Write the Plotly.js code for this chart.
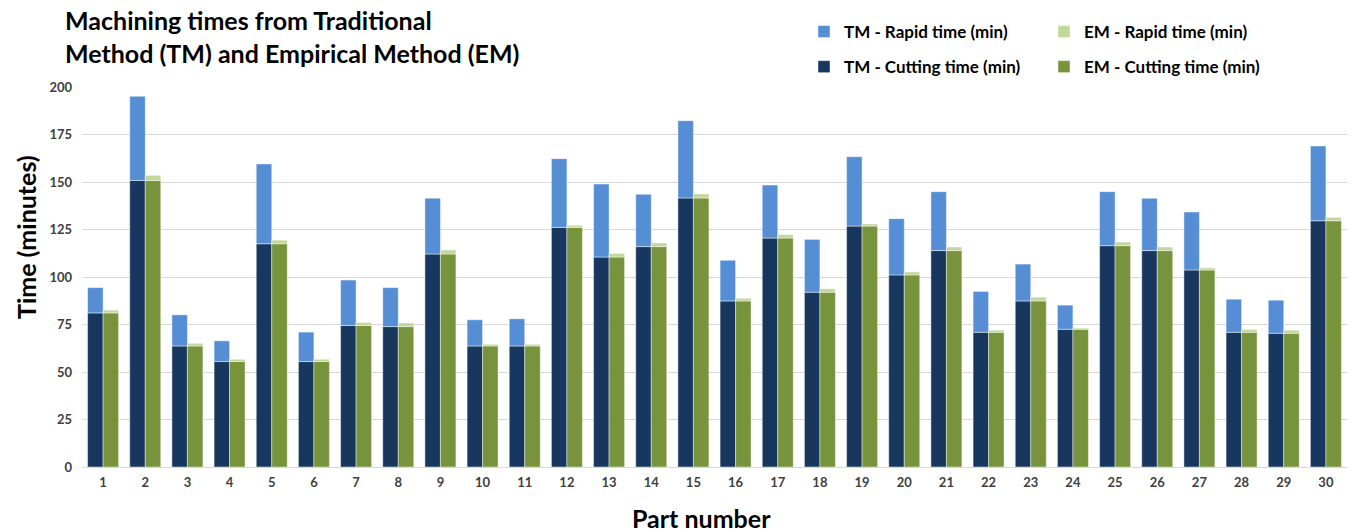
<!DOCTYPE html>
<html>
<head>
<meta charset="utf-8">
<script src="https://cdn.plot.ly/plotly-3.0.1.min.js"></script>
<style>
  html, body { margin: 0; padding: 0; background: #ffffff; }
  #chart { width: 1352px; height: 532px; }
</style>
</head>
<body>
<div id="chart"></div>
<script>
// Part numbers on the category axis
const parts = ['1','2','3','4','5','6','7','8','9','10','11','12','13','14','15',
               '16','17','18','19','20','21','22','23','24','25','26','27','28','29','30'];

// Traditional Method (TM), minutes
const tmCutting = [81.1,150.8,63.7,55.5,117.5,55.5,74.5,73.9,112.1,63.7,63.7,126.1,110.5,116.0,141.6,
                   87.4,120.5,92.0,126.8,101.1,113.9,70.9,87.4,72.5,116.5,113.9,103.7,70.9,70.4,129.6];
const tmRapid   = [13.3,44.3,16.4,10.9,42.0,15.5,23.9,20.5,29.4,13.8,14.3,36.2,38.4,27.5,40.7,
                   21.4,27.9,27.8,36.5,29.6,31.0,21.5,19.4,12.7,28.4,27.5,30.5,17.4,17.4,39.3];

// Empirical Method (EM), minutes
const emCutting = [81.1,150.8,63.7,55.5,117.5,55.5,74.5,73.9,112.1,63.7,63.7,126.1,110.5,116.0,141.6,
                   87.4,120.5,92.0,126.8,101.1,113.9,70.9,87.4,72.5,116.5,113.9,103.7,70.9,70.4,129.6];
const emRapid   = [1.5,2.7,1.4,1.2,1.9,1.2,1.6,1.9,2.1,0.9,0.9,1.1,1.9,1.9,2.1,
                   1.4,1.8,1.8,1.1,1.6,1.9,1.1,2.0,0.6,1.9,1.9,1.1,1.5,1.6,1.8];

const yTicks = [0,25,50,75,100,125,150,175,200];

const FONT = 'Lato, "Open Sans", sans-serif';
const edge = {color: 'rgba(255,255,255,0.55)', width: 0.8};

// plot area in pixels, used to place legends and axis titles in paper units
const W = 1352, H = 532, L = 82, R = 5, T = 87, B = 65;
const PW = W - L - R, PH = H - T - B;
const px2x = (px) => (px - L) / PW;
const py2y = (py) => (H - B - py) / PH;

const traces = [
  {type:'bar', name:'TM - Cutting time (min)', x:parts, y:tmCutting,
   offsetgroup:'TM', legend:'legend', legendgroup:'a2', legendrank:2,
   marker:{color:'#17375E', line:edge}},
  {type:'bar', name:'TM - Rapid time (min)', x:parts, y:tmRapid, base:tmCutting,
   offsetgroup:'TM', legend:'legend', legendgroup:'a1', legendrank:1,
   marker:{color:'#558ED5', line:edge}},
  {type:'bar', name:'EM - Cutting time (min)', x:parts, y:emCutting,
   offsetgroup:'EM', legend:'legend2', legendgroup:'b2', legendrank:2,
   marker:{color:'#77933C', line:edge}},
  {type:'bar', name:'EM - Rapid time (min)', x:parts, y:emRapid, base:emCutting,
   offsetgroup:'EM', legend:'legend2', legendgroup:'b1', legendrank:1,
   marker:{color:'#C3D69B', line:edge}}
];

const legendStyle = (xpx) => ({
  x: px2x(xpx), y: py2y(14), xanchor:'left', yanchor:'top',
  orientation:'v', traceorder:'grouped', tracegroupgap:10,
  font:{family:FONT, size:17, color:'#000000', weight:'bold'},
  bgcolor:'rgba(0,0,0,0)', itemclick:false, itemdoubleclick:false
});

const layout = {
  width:W, height:H,
  paper_bgcolor:'#ffffff', plot_bgcolor:'#ffffff',
  margin:{l:L, r:R, t:T, b:B, autoexpand:false},
  barmode:'group', bargap:0.265, bargroupgap:0,
  font:{family:FONT, color:'#404040'},
  title:{
    text:'Machining times from Traditional<br>Method (TM) and Empirical Method (EM)',
    xref:'container', yref:'container', x:65/W, xanchor:'left',
    y:1 - 30/H, yanchor:'top',
    font:{family:FONT, size:25, color:'#000000', weight:'bold'}
  },
  xaxis:{
    type:'category', tickvals:parts, ticktext:parts,
    showgrid:false, showline:false, zeroline:false, ticks:'',
    tickfont:{family:FONT, size:13, color:'#404040', weight:'bold'},
    ticklabelstandoff:6
  },
  yaxis:{
    range:[0,200], tickvals:yTicks, ticktext:yTicks.map(String),
    showgrid:true, gridcolor:'#D9D9D9', gridwidth:1,
    zeroline:true, zerolinecolor:'#D9D9D9', zerolinewidth:1,
    showline:false, ticks:'',
    tickfont:{family:FONT, size:13, color:'#404040', weight:'bold'},
    ticklabelstandoff:9
  },
  showlegend:true,
  legend: legendStyle(804),
  legend2: legendStyle(1044),
  annotations:[
    {text:'Time (minutes)', xref:'paper', yref:'paper',
     x:px2x(26), y:py2y(237), xanchor:'center', yanchor:'middle', textangle:-90,
     showarrow:false, font:{family:FONT, size:25, color:'#000000', weight:'bold'}},
    {text:'Part number', xref:'paper', yref:'paper',
     x:px2x(701), y:py2y(518), xanchor:'center', yanchor:'middle',
     showarrow:false, font:{family:FONT, size:25, color:'#000000', weight:'bold'}}
  ]
};

Plotly.newPlot('chart', traces, layout, {displayModeBar:false, staticPlot:true});
</script>
</body>
</html>
